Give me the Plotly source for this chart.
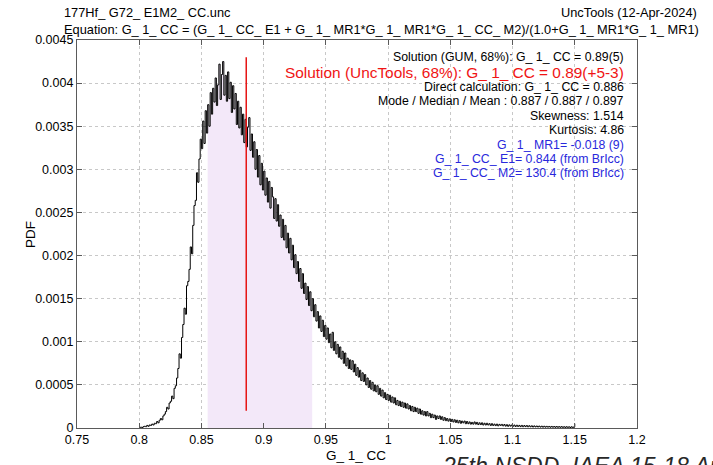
import numpy as np
import plotly.graph_objects as go

# ---------------- data ----------------
bin_start = 0.800
bin_width = 0.001
# PDF values in units of 1e-4, one per bin (bin positions 0.800 ... 1.150)
pdf_1e4 = [
    # 0.800 - 0.820
    0.05, 0.1, 0.05, 0.15, 0.2, 0.15, 0.3, 0.2, 0.35, 0.3,
    0.45, 0.35, 0.55, 0.5, 0.75, 0.6, 0.9, 1.1, 0.95, 1.4, 1.6,
    # 0.821 - 0.830
    1.9, 2.4, 2.2, 2.9, 3.1, 3.7, 3.4, 4.6, 4.9, 5.8,
    # 0.831 - 0.840
    6.9, 8.6, 8.1, 10.5, 12.0, 13.9, 13.2, 16.5, 17.0, 18.4,
    # 0.841 - 0.850
    21.0, 20.2, 23.5, 25.8, 26.4, 29.6, 28.5, 31.2, 33.5, 32.4,
    # 0.851 - 0.860
    35.6, 33.0, 36.8, 34.2, 37.5, 35.0, 38.9, 36.4, 39.4, 37.8,
    # 0.861 - 0.870
    40.6, 37.4, 39.8, 42.2, 38.1, 41.0, 42.5, 38.6, 40.9, 37.9,
    # 0.871 - 0.880
    41.3, 38.2, 40.1, 36.6, 39.7, 37.0, 38.8, 35.2, 37.9, 34.8,
    # 0.881 - 0.890
    37.2, 34.0, 36.4, 33.1, 35.8, 32.6, 34.9, 36.0, 32.2, 34.1,
    # 0.891 - 0.900
    31.4, 33.2, 30.0, 32.3, 29.1, 31.6, 28.2, 30.7, 27.6, 29.8,
    # 0.901 - 0.910
    27.0, 29.0, 26.2, 28.6, 25.5, 27.9, 26.8, 24.3, 26.6, 24.0,
    # 0.911 - 0.920
    25.9, 23.4, 24.7, 22.1, 24.2, 21.8, 23.5, 20.9, 22.6, 20.3,
    # 0.921 - 0.930
    22.0, 19.5, 21.2, 18.6, 20.1, 17.9, 19.3, 17.0, 18.5, 16.2,
    # 0.931 - 0.940
    17.9, 15.6, 16.8, 14.9, 16.4, 14.2, 15.8, 13.6, 15.0, 12.9,
    # 0.941 - 0.950
    14.3, 12.4, 13.5, 11.6, 13.0, 11.2, 12.5, 10.6, 11.9, 10.3,
    # 0.951 - 0.960
    11.6, 9.9, 10.9, 9.3, 11.1, 9.0, 10.0, 8.6, 9.7, 8.2,
    # 0.961 - 0.970
    9.4, 8.0, 8.9, 7.5, 8.7, 7.2, 8.1, 6.9, 7.9, 6.8,
    # 0.971 - 0.980
    7.8, 6.5, 7.4, 6.1, 7.0, 5.9, 6.7, 5.5, 6.4, 5.4,
    # 0.981 - 0.990
    6.2, 5.0, 5.8, 4.7, 5.5, 4.5, 5.3, 4.3, 5.0, 4.2,
    # 0.991 - 1.000
    4.9, 3.9, 4.6, 3.7, 4.4, 3.5, 4.1, 3.3, 3.9, 3.2,
    # 1.001 - 1.010
    3.8, 3.0, 3.6, 2.9, 3.5, 2.7, 3.2, 2.6, 3.1, 2.5,
    # 1.011 - 1.020
    3.0, 2.4, 2.9, 2.3, 2.8, 2.2, 2.6, 2.0, 2.5, 1.9,
    # 1.021 - 1.030
    2.4, 1.9, 2.3, 1.7, 2.2, 1.6, 2.0, 1.5, 1.9, 1.4,
    # 1.031 - 1.040
    1.9, 1.4, 1.7, 1.2, 1.6, 1.2, 1.5, 1.0, 1.4, 1.1,
    # 1.041 - 1.050
    1.4, 1.0, 1.3, 0.9, 1.2, 0.85, 1.1, 0.8, 1.05, 0.75,
    # 1.051 - 1.060
    1.0, 0.7, 0.95, 0.65, 0.9, 0.6, 0.85, 0.55, 0.8, 0.6,
    # 1.061 - 1.070
    0.8, 0.5, 0.75, 0.5, 0.7, 0.45, 0.65, 0.45, 0.7, 0.45,
    # 1.071 - 1.080
    0.65, 0.4, 0.6, 0.4, 0.6, 0.35, 0.55, 0.35, 0.55, 0.35,
    # 1.081 - 1.090
    0.5, 0.3, 0.5, 0.3, 0.45, 0.28, 0.45, 0.25, 0.42, 0.3,
    # 1.091 - 1.100
    0.42, 0.25, 0.4, 0.22, 0.38, 0.2, 0.36, 0.22, 0.35, 0.2,
    # 1.101 - 1.110
    0.34, 0.18, 0.32, 0.18, 0.3, 0.16, 0.3, 0.15, 0.28, 0.16,
    # 1.111 - 1.120
    0.28, 0.14, 0.26, 0.14, 0.25, 0.12, 0.24, 0.13, 0.23, 0.12,
    # 1.121 - 1.130
    0.22, 0.11, 0.21, 0.1, 0.2, 0.1, 0.19, 0.1, 0.18, 0.09,
    # 1.131 - 1.140
    0.18, 0.09, 0.17, 0.08, 0.17, 0.08, 0.16, 0.08, 0.16, 0.07,
    # 1.141 - 1.150
    0.15, 0.07, 0.15, 0.07, 0.14, 0.06, 0.14, 0.06, 0.13, 0.5,
]
ci_low, ci_high = 0.855, 0.940          # 68% interval (shaded)
direct_value = 0.886                    # direct calculation (red line)
red_line_y = [0.0002, 0.0043]

x_ticks = [0.75, 0.8, 0.85, 0.9, 0.95, 1.0, 1.05, 1.1, 1.15, 1.2]
x_ticktext = ["0.75", "0.8", "0.85", "0.9", "0.95", "1", "1.05", "1.1", "1.15", "1.2"]
y_ticks = [0, 0.0005, 0.001, 0.0015, 0.002, 0.0025, 0.003, 0.0035, 0.004, 0.0045]
y_ticktext = ["0", "0.0005", "0.001", "0.0015", "0.002", "0.0025", "0.003", "0.0035", "0.004", "0.0045"]

info_lines = [
    ("Solution (GUM, 68%): G_ 1_ CC = 0.89(5)", "black", 12.3),
    ("Solution (UncTools, 68%): G_ 1_ CC = 0.89(+5-3)", "rgb(240,20,20)", 15.4),
    ("Direct calculation: G_ 1_ CC = 0.886", "black", 12.3),
    ("Mode / Median / Mean : 0.887 / 0.887 / 0.897", "black", 12.3),
    ("Skewness: 1.514", "black", 12.3),
    ("Kurtosis: 4.86", "black", 12.3),
    ("G_ 1_ MR1= -0.018 (9)", "rgb(40,40,220)", 12.3),
    ("G_ 1_ CC_ E1= 0.844 (from BrIcc)", "rgb(40,40,220)", 12.3),
    ("G_ 1_ CC_ M2= 130.4 (from BrIcc)", "rgb(40,40,220)", 12.3),
]

# ---------------- figure ----------------
x = bin_start + bin_width * np.arange(len(pdf_1e4))
y = np.array(pdf_1e4) * 1e-4
mask = (x >= ci_low) & (x <= ci_high)

FONT = "Liberation Sans, Arial, sans-serif"
fig = go.Figure()
fig.add_trace(go.Scatter(x=x[mask], y=y[mask], mode="lines", line=dict(width=0, shape="hv"),
                         fill="tozeroy", fillcolor="rgb(243,232,249)", hoverinfo="skip"))
fig.add_trace(go.Scatter(x=x, y=y, mode="lines", line=dict(color="black", width=1, shape="hv")))
fig.add_trace(go.Scatter(x=[direct_value, direct_value], y=red_line_y, mode="lines",
                         line=dict(color="rgb(230,20,20)", width=1.5)))

L, R, T, B = 77, 75.5, 40, 37
W, H = 713, 465
pw, ph = W - L - R, H - T - B

def px(xp):
    return (xp - L) / pw

def py(yp):
    return (H - B - yp) / ph

ann = []
ann.append(dict(text="177Hf_ G72_ E1M2_ CC.unc", x=px(62), y=py(12), xanchor="left", yanchor="middle",
                font=dict(size=12.8, color="black")))
ann.append(dict(text="UncTools (12-Apr-2024)", x=px(700), y=py(12), xanchor="right", yanchor="middle",
                font=dict(size=12.8, color="black")))
ann.append(dict(text="Equation: G_ 1_ CC = (G_ 1_ CC_ E1 + G_ 1_ MR1*G_ 1_ MR1*G_ 1_ CC_ M2)/(1.0+G_ 1_ MR1*G_ 1_ MR1)",
                x=px(62), y=py(29), xanchor="left", yanchor="middle", font=dict(size=12.8, color="black")))
ys = [57, 72, 87, 101, 116, 130, 145, 159, 173]
for (t, c, s), yy in zip(info_lines, ys):
    ann.append(dict(text=t, x=px(626), y=py(yy), xanchor="right", yanchor="middle", font=dict(size=s, color=c)))
ann.append(dict(text="PDF", x=px(30), y=py(235), textangle=-90, xanchor="center", yanchor="middle",
                font=dict(size=13.5, color="black")))
ann.append(dict(text="G_ 1_ CC", x=px(356), y=py(455), xanchor="center", yanchor="middle",
                font=dict(size=13.5, color="black")))
ann.append(dict(text="<i>25th NSDD, IAEA 15-18 April 2024</i>", x=px(440), y=py(451), xanchor="left", yanchor="top",
                font=dict(size=23, color="rgb(40,40,40)")))
for a in ann:
    a.update(xref="paper", yref="paper", showarrow=False)

axis_common = dict(showline=True, linecolor="rgb(90,90,90)", linewidth=1.2, mirror="ticks",
                   ticks="inside", ticklen=5, tickcolor="rgb(90,90,90)", showgrid=True,
                   gridcolor="rgb(200,200,200)", griddash="dot", gridwidth=1, zeroline=False,
                   tickfont=dict(size=12.5, color="black"))
fig.update_xaxes(range=[0.75, 1.2], tickvals=x_ticks, ticktext=x_ticktext, **axis_common)
fig.update_yaxes(range=[0, 0.0045], tickvals=y_ticks, ticktext=y_ticktext, **axis_common)
fig.update_layout(width=W, height=H, margin=dict(l=L, r=R, t=T, b=B, pad=0),
                  paper_bgcolor="white", plot_bgcolor="white", showlegend=False,
                  font=dict(family=FONT, color="black"), annotations=ann)
fig.write_html("out.html", config={"displayModeBar": False},
               post_script="document.body.style.margin='0px';")
